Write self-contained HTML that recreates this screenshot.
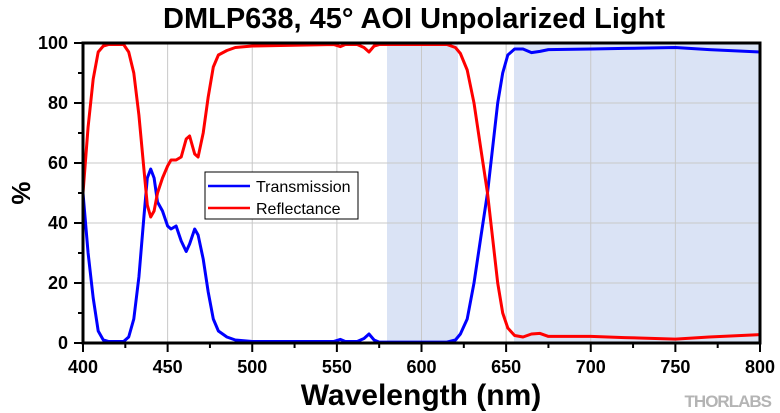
<!DOCTYPE html>
<html><head><meta charset="utf-8"><style>
body{margin:0;background:#fff}
svg{display:block;font-family:"Liberation Sans",Arial,sans-serif}
</style></head><body>
<svg id="s" width="780" height="413" xmlns="http://www.w3.org/2000/svg">
<rect width="780" height="413" fill="#fff"/>
<rect x="387" y="43" width="71" height="300" fill="#dae3f5"/>
<rect x="514" y="43" width="246" height="300" fill="#dae3f5"/>
<g id="grid" stroke="#c8c8c8" stroke-width="1"></g>
<g id="ticks" stroke="#000" stroke-width="2"></g>
<polyline id="T" fill="none" stroke="#0000ff" stroke-width="3" stroke-linejoin="round"/>
<polyline id="R" fill="none" stroke="#ff0000" stroke-width="3" stroke-linejoin="round"/>
<rect x="83" y="43" width="677" height="300" fill="none" stroke="#000" stroke-width="3"/>
<rect x="205" y="172" width="153" height="47" fill="#fff" stroke="#000" stroke-width="1"/>
<line x1="208" y1="186" x2="250" y2="186" stroke="#0000ff" stroke-width="2.5"/>
<line x1="208" y1="208" x2="250" y2="208" stroke="#ff0000" stroke-width="2.5"/>
<text x="256" y="192" font-size="16">Transmission</text>
<text x="256" y="214" font-size="16">Reflectance</text>
<g id="lab" font-size="18" font-weight="bold"></g>
<text x="414" y="28" font-size="29" font-weight="bold" text-anchor="middle">DMLP638, 45° AOI Unpolarized Light</text>
<text x="421" y="405" font-size="30" font-weight="bold" text-anchor="middle">Wavelength (nm)</text>
<text transform="translate(30,193) rotate(-90)" font-size="26" font-weight="bold" text-anchor="middle">%</text>
<text x="771" y="407" font-size="17" font-weight="bold" fill="#b4b4b4" text-anchor="end" letter-spacing="-1">THORLABS</text>
</svg>
<script>
var X=function(w){return 83+(w-400)*677/400},Y=function(p){return 343-p*3};
var ns="http://www.w3.org/2000/svg",g=document.getElementById('grid'),tk=document.getElementById('ticks'),lb=document.getElementById('lab');
function el(p,t,a,txt){var e=document.createElementNS(ns,t);for(var k in a)e.setAttribute(k,a[k]);if(txt!==undefined)e.textContent=String(txt);p.appendChild(e);}
for(var w=400;w<=800;w+=25){var x=X(w);if(w>400&&w<800&&w%50==0)el(g,'line',{x1:x,y1:43,x2:x,y2:343});el(tk,'line',{x1:x,y1:343,x2:x,y2:w%50==0?352:348});if(w%50==0)el(lb,'text',{x:x,y:373,'text-anchor':'middle'},w);}
for(var p=0;p<=100;p+=10){var y=Y(p);if(p>0&&p<100&&p%20==0)el(g,'line',{x1:83,y1:y,x2:760,y2:y});el(tk,'line',{x1:p%20==0?74:78,y1:y,x2:83,y2:y});if(p%20==0)el(lb,'text',{x:68,y:y+6,'text-anchor':'end'},p);}
var T=[[400,50],[403,30],[406,15],[409,4],[412,1],[415,0.5],[424,0.5],[427,2],[430,8],[433,22],[436,42],[438,55],[440,58],[442,55],[444,47],[447,44],[450,39],[452,38],[455,39],[458,34],[461,30.5],[463,33],[466,38],[468,36],[471,28],[474,17],[477,8],[480,4],[485,2],[490,1],[500,0.5],[548,0.5],[552,1.2],[555,0.5],[562,0.5],[566,1.5],[569,3],[572,1],[575,0.3],[615,0.3],[620,1],[623,3],[627,8],[631,20],[635,35],[639,50],[642,65],[645,80],[648,90],[651,96],[655,98],[660,98],[665,96.8],[670,97.2],[675,97.8],[700,98],[720,98.2],[750,98.5],[770,97.8],[800,97]];
var R=[[400,50],[403,72],[406,88],[409,97],[412,99],[415,99.5],[424,99.5],[427,97],[430,90],[433,76],[436,58],[438,46],[440,42],[442,44],[444,50],[447,55],[450,59],[452,61],[455,61],[458,62],[461,68],[463,69],[466,63],[468,62],[471,70],[474,82],[477,92],[480,96],[485,97.5],[490,98.5],[500,99],[548,99.5],[552,98.8],[555,99.5],[562,99.5],[566,98.5],[569,97],[572,99],[575,99.5],[615,99.5],[620,98.5],[623,96.5],[627,91],[631,80],[635,65],[639,50],[642,35],[645,20],[648,10],[651,5],[655,2.5],[660,2],[665,3],[670,3.2],[675,2.2],[700,2.2],[720,1.8],[750,1.3],[770,2],[800,2.8]];
function pts(a){return a.map(function(d){return X(d[0]).toFixed(1)+','+Y(d[1]).toFixed(1)}).join(' ')}
document.getElementById('T').setAttribute('points',pts(T));
document.getElementById('R').setAttribute('points',pts(R));
</script>
</body></html>
